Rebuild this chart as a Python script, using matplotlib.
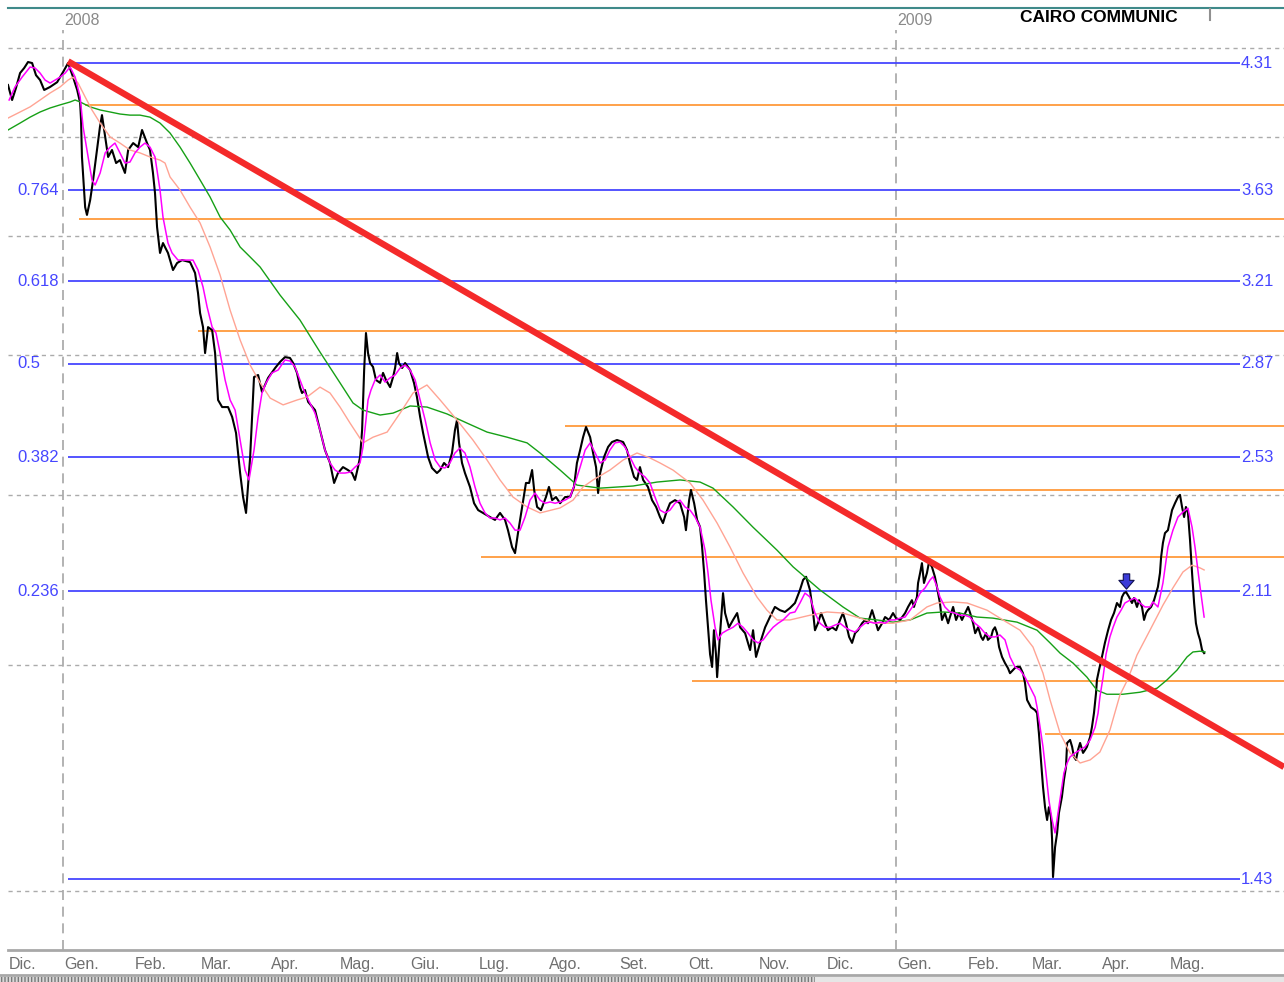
import pandas as pd
import matplotlib
matplotlib.use('Agg')
import matplotlib.pyplot as plt
import matplotlib.transforms as mtransforms
from matplotlib.lines import Line2D
from matplotlib.patches import Rectangle

plt.rcParams['font.family'] = ['Liberation Sans', 'DejaVu Sans']

# x values are days counted from 1 Jan 2008
base = pd.Timestamp('2008-01-01')

# closing price (black)
price_days = [
    -24.2, -22.4, -20.7, -18.9, -17.1, -15.4, -13.6, -11.9, -10.1, -8.3,
    -5.7, -2.6, 0.0, 2.2, 4.4, 6.2, 7.5, 7.9, 8.3, 9.7,
    10.5, 11.9, 13.2, 14.9, 16.2, 17.1, 18.5, 19.8, 21.5, 23.3,
    25.0, 27.2, 28.6, 30.8, 33.0, 34.7, 36.9, 38.2, 39.5, 40.4,
    41.3, 42.6, 43.9, 46.1, 48.3, 50.1, 52.3, 55.8, 58.0, 59.3,
    60.2, 61.5, 62.4, 63.7, 65.5, 66.8, 68.1, 69.9, 72.5, 74.3,
    76.0, 77.8, 79.1, 80.4, 82.2, 83.9, 85.7, 87.4, 90.1, 93.2,
    95.3, 97.5, 99.7, 101.1, 102.8, 104.1, 105.0, 106.3, 107.7, 110.7,
    112.9, 115.1, 117.3, 119.1, 120.8, 123.0, 125.2, 127.0, 128.3, 129.6,
    130.5, 131.4, 131.8, 132.3, 133.1, 134.0, 134.9, 136.2, 137.5, 139.3,
    140.6, 141.9, 143.7, 145.0, 145.9, 146.8, 147.6, 149.0, 150.3, 152.5,
    154.2, 155.5, 156.9, 158.2, 160.4, 162.1, 164.3, 165.7, 167.4, 169.2,
    170.9, 172.2, 173.1, 174.0, 175.3, 176.6, 178.8, 180.6, 182.4, 184.5,
    187.6, 189.8, 192.0, 194.2, 195.5, 197.3, 198.6, 199.9, 201.7, 203.4,
    204.8, 206.1, 207.0, 208.3, 210.0, 212.2, 213.5, 214.9, 216.6, 218.4,
    220.6, 222.8, 224.5, 225.8, 227.2, 228.5, 229.8, 231.6, 232.9, 234.2,
    235.1, 236.0, 237.7, 239.5, 241.2, 243.4, 246.1, 247.8, 249.1, 250.9,
    252.2, 253.5, 254.9, 257.0, 258.8, 260.6, 262.3, 263.6, 265.0, 266.7,
    268.9, 271.1, 272.9, 273.7, 275.1, 275.9, 277.3, 278.6, 279.9, 280.8,
    281.7, 282.5, 283.4, 284.3, 285.2, 286.0, 286.9, 287.4, 288.7, 290.0,
    290.9, 292.6, 294.4, 296.2, 297.5, 299.7, 301.9, 303.2, 304.5, 306.3,
    308.5, 310.6, 312.8, 315.0, 317.2, 319.4, 321.6, 323.8, 325.2, 326.5,
    328.2, 329.6, 330.4, 331.7, 333.1, 334.8, 336.1, 337.9, 339.7, 341.4,
    342.7, 344.0, 345.4, 346.7, 348.0, 349.3, 351.1, 352.4, 353.7, 355.5,
    356.8, 358.1, 359.9, 361.2, 363.0, 364.7, 366.0, 367.8, 370.0, 371.3,
    373.0, 373.9, 375.2, 375.7, 376.6, 377.4, 378.3, 379.6, 380.5, 381.8,
    383.1, 384.0, 385.3, 386.2, 387.5, 388.9, 389.7, 391.1, 392.4, 393.7,
    395.0, 396.4, 397.7, 398.6, 399.9, 400.8, 402.1, 403.4, 404.2, 405.6,
    406.4, 407.8, 408.6, 409.5, 410.4, 411.3, 412.6, 413.9, 415.2, 416.1,
    417.4, 418.7, 420.5, 421.8, 422.7, 423.6, 425.3, 427.1, 428.0, 428.8,
    429.7, 430.6, 431.5, 432.4, 433.2, 434.1, 434.6, 435.0, 435.9, 436.8,
    437.6, 438.9, 439.8, 440.7, 441.2, 442.5, 443.4, 444.2, 445.1, 446.0,
    446.9, 448.2, 449.1, 449.9, 451.3, 452.1, 453.0, 453.9, 454.3, 455.2,
    456.5, 457.8, 459.2, 460.5, 461.8, 463.1, 464.4, 465.3, 466.2, 467.1,
    468.4, 469.7, 470.6, 471.9, 472.8, 474.1, 475.0, 475.9, 476.7, 478.1,
    479.4, 480.3, 481.1, 482.0, 482.5, 483.3, 484.2, 485.5, 486.4, 487.3,
    488.6, 489.9, 490.8, 491.7, 492.6, 493.4, 494.3, 495.2, 496.1, 497.0,
    497.8, 498.7, 499.6, 500.5, 501.4,
]
price_vals = [
    4.184, 4.100, 4.167, 4.252, 4.281, 4.316, 4.310, 4.240, 4.212, 4.156,
    4.173, 4.200, 4.258, 4.310, 4.229, 4.156, 4.084, 3.990, 3.796, 3.547,
    3.510, 3.581, 3.680, 3.832, 3.953, 4.017, 3.900, 3.796, 3.832, 3.765,
    3.780, 3.715, 3.832, 3.868, 3.847, 3.937, 3.868, 3.832, 3.715, 3.615,
    3.453, 3.334, 3.379, 3.334, 3.258, 3.289, 3.302, 3.293, 3.245, 3.158,
    3.074, 3.016, 2.912, 3.016, 3.004, 2.912, 2.733, 2.707, 2.707, 2.671,
    2.614, 2.476, 2.397, 2.346, 2.530, 2.819, 2.827, 2.763, 2.816, 2.854,
    2.877, 2.896, 2.893, 2.873, 2.835, 2.781, 2.759, 2.770, 2.726, 2.696,
    2.624, 2.554, 2.510, 2.443, 2.476, 2.496, 2.486, 2.476, 2.453, 2.496,
    2.530, 2.624, 2.722, 2.846, 2.992, 2.912, 2.873, 2.858, 2.808, 2.797,
    2.835, 2.808, 2.781, 2.819, 2.854, 2.912, 2.873, 2.854, 2.873, 2.846,
    2.797, 2.744, 2.671, 2.614, 2.530, 2.493, 2.476, 2.486, 2.510, 2.496,
    2.544, 2.624, 2.660, 2.579, 2.510, 2.476, 2.430, 2.377, 2.355, 2.346,
    2.333, 2.324, 2.346, 2.324, 2.292, 2.240, 2.222, 2.283, 2.365, 2.443,
    2.443, 2.486, 2.420, 2.365, 2.355, 2.397, 2.430, 2.387, 2.397, 2.377,
    2.397, 2.397, 2.430, 2.510, 2.554, 2.599, 2.635, 2.599, 2.544, 2.496,
    2.410, 2.476, 2.530, 2.565, 2.582, 2.589, 2.582, 2.554, 2.510, 2.463,
    2.453, 2.496, 2.453, 2.430, 2.387, 2.365, 2.333, 2.314, 2.346, 2.377,
    2.387, 2.377, 2.333, 2.292, 2.387, 2.420, 2.377, 2.324, 2.302, 2.240,
    2.163, 2.085, 2.010, 1.938, 1.905, 2.002, 1.938, 1.879, 1.994, 2.105,
    2.049, 2.010, 2.030, 2.049, 2.010, 1.994, 1.949, 2.002, 1.931, 1.968,
    2.010, 2.038, 2.066, 2.057, 2.052, 2.063, 2.077, 2.114, 2.143, 2.152,
    2.114, 2.049, 2.002, 2.021, 2.049, 2.021, 2.002, 2.010, 2.002, 2.030,
    2.049, 2.021, 1.984, 1.968, 1.994, 2.002, 2.021, 2.030, 2.021, 2.057,
    2.030, 2.002, 2.021, 2.038, 2.030, 2.049, 2.035, 2.030, 2.049, 2.066,
    2.085, 2.066, 2.094, 2.134, 2.163, 2.192, 2.134, 2.163, 2.195, 2.181,
    2.152, 2.123, 2.077, 2.030, 2.049, 2.021, 2.038, 2.066, 2.030, 2.049,
    2.030, 2.049, 2.066, 2.049, 2.021, 1.994, 2.010, 1.984, 1.976, 1.994,
    1.976, 1.984, 2.002, 2.010, 1.994, 1.957, 1.931, 1.915, 1.902, 1.889,
    1.897, 1.905, 1.905, 1.889, 1.864, 1.822, 1.804, 1.797, 1.790, 1.742,
    1.680, 1.620, 1.576, 1.549, 1.576, 1.555, 1.508, 1.434, 1.493, 1.522,
    1.564, 1.598, 1.635, 1.664, 1.719, 1.726, 1.710, 1.687, 1.680, 1.703,
    1.719, 1.696, 1.703, 1.710, 1.733, 1.756, 1.790, 1.839, 1.872, 1.897,
    1.931, 1.968, 2.002, 2.030, 2.049, 2.077, 2.066, 2.094, 2.105, 2.108,
    2.094, 2.077, 2.091, 2.066, 2.085, 2.066, 2.030, 2.049, 2.057, 2.066,
    2.085, 2.105, 2.123, 2.163, 2.210, 2.253, 2.283, 2.292, 2.324, 2.355,
    2.377, 2.397, 2.404, 2.365, 2.333, 2.365, 2.346, 2.262, 2.163, 2.077,
    2.021, 1.994, 1.976, 1.949, 1.941,
]

# short moving average (magenta)
ma_fast_days = [
    -23.7, -21.1, -18.0, -14.5, -12.3, -10.1, -7.9, -5.7, -3.5, -1.3,
    0.9, 3.1, 5.3, 7.5, 8.8, 10.5, 12.7, 14.1, 16.3, 18.5,
    20.7, 22.8, 25.0, 27.2, 29.4, 31.6, 33.8, 36.0, 38.2, 40.4,
    42.6, 43.9, 46.1, 47.9, 50.5, 53.6, 57.1, 59.3, 61.5, 63.3,
    65.5, 67.2, 69.0, 71.2, 73.4, 75.6, 77.8, 80.0, 81.7, 83.9,
    85.7, 87.4, 89.2, 91.8, 94.5, 97.5, 99.7, 101.9, 104.1, 106.3,
    108.5, 110.7, 112.9, 115.1, 117.3, 119.5, 121.7, 123.9, 126.1, 128.3,
    130.5, 131.8, 133.1, 134.0, 135.3, 137.1, 139.3, 141.5, 143.7, 145.9,
    148.1, 150.3, 152.5, 154.7, 156.9, 159.1, 161.3, 163.5, 165.7, 167.8,
    170.0, 172.2, 174.4, 176.6, 178.8, 181.0, 183.2, 185.4, 187.6, 189.8,
    192.0, 194.2, 196.4, 198.6, 200.8, 203.0, 205.2, 207.4, 209.6, 211.8,
    214.0, 216.2, 218.4, 220.6, 222.8, 225.0, 227.2, 229.4, 231.6, 233.8,
    236.0, 238.2, 240.3, 242.5, 244.7, 246.9, 249.1, 251.3, 253.5, 255.7,
    257.9, 260.1, 262.3, 264.5, 266.7, 268.9, 271.1, 273.3, 275.5, 277.7,
    279.9, 282.1, 283.4, 284.7, 286.5, 287.8, 289.6, 291.8, 294.4, 296.6,
    298.8, 301.0, 303.2, 305.4, 307.6, 309.8, 312.0, 314.2, 316.4, 319.4,
    321.6, 323.8, 326.0, 328.2, 330.4, 332.6, 334.8, 337.0, 339.2, 341.4,
    343.6, 345.8, 348.0, 350.2, 352.4, 354.6, 356.8, 359.0, 361.2, 363.4,
    365.6, 367.8, 370.0, 372.2, 374.4, 376.6, 378.8, 381.0, 382.3, 384.0,
    385.3, 387.5, 389.7, 391.9, 394.1, 396.3, 398.5, 400.7, 402.9, 405.1,
    407.3, 409.5, 411.7, 413.9, 416.1, 418.3, 420.5, 422.7, 424.9, 427.1,
    428.0, 429.3, 430.6, 431.9, 433.2, 434.6, 435.9, 437.2, 438.5, 439.8,
    441.2, 442.5, 444.7, 446.9, 449.1, 451.3, 453.5, 454.8, 455.6, 457.0,
    458.3, 460.0, 461.4, 463.1, 464.9, 466.6, 468.8, 471.0, 473.2, 475.4,
    477.6, 478.9, 481.1, 483.3, 485.5, 487.7, 489.9, 492.1, 494.3, 496.1,
    497.4, 499.2, 501.4,
]
ma_fast_vals = [
    4.100, 4.173, 4.229, 4.287, 4.281, 4.252, 4.212, 4.195, 4.212, 4.229,
    4.252, 4.287, 4.229, 4.117, 3.953, 3.832, 3.680, 3.655, 3.715, 3.817,
    3.847, 3.868, 3.817, 3.765, 3.770, 3.817, 3.847, 3.868, 3.847, 3.796,
    3.630, 3.500, 3.379, 3.334, 3.302, 3.302, 3.302, 3.258, 3.184, 3.099,
    3.016, 2.992, 2.912, 2.808, 2.733, 2.696, 2.589, 2.486, 2.453, 2.554,
    2.671, 2.759, 2.797, 2.835, 2.846, 2.885, 2.881, 2.858, 2.808, 2.759,
    2.722, 2.685, 2.624, 2.554, 2.510, 2.486, 2.476, 2.476, 2.479, 2.496,
    2.510, 2.565, 2.660, 2.733, 2.770, 2.808, 2.827, 2.800, 2.816, 2.827,
    2.854, 2.865, 2.846, 2.808, 2.733, 2.660, 2.579, 2.520, 2.496, 2.493,
    2.510, 2.544, 2.561, 2.544, 2.496, 2.430, 2.377, 2.346, 2.330, 2.330,
    2.324, 2.330, 2.314, 2.292, 2.292, 2.333, 2.387, 2.410, 2.387, 2.377,
    2.381, 2.377, 2.381, 2.387, 2.397, 2.443, 2.496, 2.554, 2.579, 2.544,
    2.510, 2.520, 2.554, 2.579, 2.582, 2.565, 2.530, 2.496, 2.476, 2.463,
    2.443, 2.397, 2.355, 2.346, 2.355, 2.377, 2.387, 2.365, 2.355, 2.333,
    2.302, 2.231, 2.163, 2.085, 2.010, 1.976, 1.994, 2.002, 2.010, 2.021,
    2.010, 1.994, 1.976, 1.968, 1.976, 1.994, 2.010, 2.021, 2.030, 2.049,
    2.052, 2.077, 2.105, 2.094, 2.049, 2.021, 2.010, 2.010, 2.016, 2.021,
    2.010, 2.002, 1.997, 2.010, 2.021, 2.024, 2.021, 2.024, 2.021, 2.030,
    2.030, 2.035, 2.038, 2.057, 2.077, 2.105, 2.120, 2.143, 2.152, 2.123,
    2.094, 2.066, 2.052, 2.049, 2.043, 2.043, 2.038, 2.021, 2.010, 1.994,
    1.984, 1.984, 1.989, 1.976, 1.931, 1.905, 1.897, 1.879, 1.854, 1.829,
    1.804, 1.756, 1.710, 1.651, 1.591, 1.549, 1.522, 1.564, 1.607, 1.651,
    1.673, 1.687, 1.696, 1.703, 1.710, 1.726, 1.756, 1.790, 1.829, 1.879,
    1.938, 1.984, 2.010, 2.038, 2.057, 2.077, 2.085, 2.091, 2.077, 2.066,
    2.066, 2.080, 2.066, 2.134, 2.240, 2.292, 2.333, 2.349, 2.361, 2.301,
    2.240, 2.143, 2.038,
]

# medium moving average (salmon)
ma_mid_days = [
    -24.2, -18.9, -14.5, -10.1, -5.7, -1.3, 2.2, 4.4, 6.6, 9.7,
    12.7, 16.3, 20.7, 25.0, 29.4, 33.8, 38.2, 42.6, 44.8, 47.0,
    51.4, 55.8, 60.2, 64.6, 69.0, 73.4, 77.8, 82.2, 86.6, 91.0,
    96.7, 102.8, 107.2, 112.9, 117.3, 121.7, 126.1, 131.8, 136.2, 142.4,
    148.1, 153.8, 159.9, 165.7, 173.1, 180.1, 186.3, 192.0, 197.7, 203.9,
    209.6, 218.4, 224.1, 228.5, 232.9, 240.3, 246.1, 252.2, 257.9, 262.3,
    268.0, 275.5, 281.2, 287.4, 293.1, 298.8, 304.9, 309.3, 313.7, 319.4,
    328.2, 335.7, 342.7, 350.2, 356.8, 364.7, 372.2, 379.6, 384.0, 391.1,
    397.3, 406.0, 413.0, 420.5, 426.2, 430.6, 433.7, 438.1, 442.5, 446.9,
    451.3, 455.6, 460.0, 464.4, 467.9, 471.9, 477.6, 483.3, 487.7, 492.1,
    496.1, 499.6, 501.4,
]
ma_mid_vals = [
    4.001, 4.034, 4.062, 4.100, 4.139, 4.173, 4.212, 4.229, 4.195, 4.117,
    4.045, 3.974, 3.900, 3.868, 3.832, 3.817, 3.796, 3.780, 3.765, 3.695,
    3.630, 3.547, 3.472, 3.361, 3.236, 3.086, 2.964, 2.865, 2.797, 2.740,
    2.715, 2.733, 2.744, 2.781, 2.759, 2.707, 2.649, 2.579, 2.599, 2.617,
    2.685, 2.759, 2.789, 2.733, 2.660, 2.589, 2.520, 2.453, 2.397, 2.365,
    2.346, 2.362, 2.387, 2.430, 2.453, 2.486, 2.520, 2.544, 2.527, 2.510,
    2.486, 2.443, 2.387, 2.314, 2.240, 2.163, 2.094, 2.057, 2.030, 2.030,
    2.043, 2.052, 2.049, 2.035, 2.021, 2.021, 2.030, 2.066, 2.077, 2.080,
    2.077, 2.057, 2.030, 2.002, 1.957, 1.889, 1.822, 1.742, 1.696, 1.673,
    1.680, 1.698, 1.749, 1.834, 1.874, 1.936, 2.002, 2.071, 2.120, 2.166,
    2.186, 2.178, 2.172,
]

# long moving average (green)
ma_slow_days = [
    -24.2, -18.9, -14.5, -10.1, -5.7, -1.3, 3.1, 5.3, 7.5, 11.9,
    16.3, 20.7, 25.0, 29.4, 33.8, 38.2, 42.6, 47.0, 51.4, 55.8,
    60.2, 64.6, 69.0, 73.4, 77.8, 82.2, 86.6, 95.3, 104.1, 112.9,
    121.7, 127.4, 131.8, 139.3, 145.0, 152.5, 159.9, 168.7, 177.5, 186.3,
    195.1, 203.9, 209.6, 218.4, 225.8, 236.0, 250.5, 261.0, 271.1, 279.9,
    285.6, 294.4, 303.2, 313.7, 320.8, 332.6, 342.7, 350.2, 357.7, 364.7,
    372.2, 379.6, 386.7, 394.1, 401.6, 408.6, 419.2, 428.0, 433.7, 438.1,
    443.8, 449.9, 454.3, 458.7, 465.7, 473.2, 480.7, 485.1, 489.5, 493.9,
    496.5, 499.6, 501.8,
]
ma_slow_vals = [
    3.937, 3.974, 4.006, 4.034, 4.056, 4.073, 4.089, 4.100, 4.089, 4.062,
    4.045, 4.034, 4.023, 4.017, 4.017, 4.006, 3.974, 3.921, 3.847, 3.765,
    3.680, 3.596, 3.500, 3.439, 3.361, 3.316, 3.271, 3.150, 3.045, 2.916,
    2.797, 2.722, 2.696, 2.678, 2.685, 2.711, 2.707, 2.682, 2.649, 2.617,
    2.599, 2.579, 2.544, 2.486, 2.436, 2.426, 2.433, 2.446, 2.453, 2.446,
    2.426, 2.365, 2.301, 2.231, 2.181, 2.114, 2.066, 2.035, 2.030, 2.024,
    2.030, 2.049, 2.052, 2.049, 2.038, 2.035, 2.024, 2.002, 1.968, 1.941,
    1.915, 1.879, 1.846, 1.836, 1.836, 1.841, 1.851, 1.872, 1.897, 1.931,
    1.944, 1.946, 1.944,
]

# Fibonacci retracement levels (blue)
fib_prices = [4.31, 3.63, 3.21, 2.87, 2.53, 2.11, 1.43]
fib_ratio_labels = ['', '0.764', '0.618', '0.5', '0.382', '0.236', '']
fib_price_labels = ['4.31', '3.63', '3.21', '2.87', '2.53', '2.11', '1.43']

# support / resistance lines (orange): level and first day
sr_levels = [4.07, 3.49, 3.00, 2.64, 2.42, 2.21, 1.87, 1.74]
sr_start_days = [9.7, 7.0, 59.3, 220.6, 195.5, 183.7, 276.4, 431.5]

# falling trendline (red)
trend_days = [2.2, 536.5]
trend_prices = [4.32, 1.664]

# price grid (dashed)
grid_prices = [1.407, 1.91, 2.403, 2.904, 3.41, 3.90, 4.40]

# signal arrow
arrow_day = 467.1
arrow_price = 2.140

month_labels = ['Dic.', 'Gen.', 'Feb.', 'Mar.', 'Apr.', 'Mag.', 'Giu.', 'Lug.',
                'Ago.', 'Set.', 'Ott.', 'Nov.', 'Dic.', 'Gen.', 'Feb.', 'Mar.',
                'Apr.', 'Mag.']
month_starts = pd.date_range('2007-12-01', '2009-05-01', freq='MS')
year_labels = ['2008', '2009']
year_starts = [pd.Timestamp('2008-01-01'), pd.Timestamp('2009-01-01')]

W, H = 1284, 982
x0, x1 = -24.2, 536.5
fig = plt.figure(figsize=(W / 100, H / 100), dpi=100)
ax = fig.add_axes([8 / W, 32 / H, 1 - 8 / W, 942 / H])
ax.set_yscale('log')
ax.set_xlim(x0, x1)
ax.set_ylim(1.2993, 4.643)
ax.set_xticks([])
ax.set_yticks([])
ax.set_yticks([], minor=True)
ax.tick_params(which='both', left=False, bottom=False, labelleft=False, labelbottom=False)
ax.spines['left'].set_visible(False)
ax.spines['right'].set_visible(False)
ax.spines['top'].set_color('#3f8a8a')
ax.spines['top'].set_linewidth(1.5)
ax.spines['bottom'].set_color('#a8a8a8')
ax.spines['bottom'].set_linewidth(2)

for g in grid_prices:
    ax.axhline(g, color='#ababab', lw=1, ls=(0, (3, 3)), zorder=1)

for ys in year_starts:
    d = (ys - base).days
    ax.axvline(d, ymax=0.977, color='#a6a6a6', lw=1.2, ls=(0, (6, 4)), zorder=1)

ax.hlines(fib_prices, 2.2, 517.1, color='#4646ff', lw=1.3, zorder=2)
for lvl, start in zip(sr_levels, sr_start_days):
    ax.hlines(lvl, start, x1, color='#ff9a3c', lw=1.3, zorder=2)

ax.plot(price_days, price_vals, color='black', lw=1.5, zorder=3)
ax.plot(ma_slow_days, ma_slow_vals, color='#16a016', lw=1.0, zorder=3.1)
ax.plot(ma_mid_days, ma_mid_vals, color='#ffa494', lw=1.0, zorder=3.1)
ax.plot(ma_fast_days, ma_fast_vals, color='#ff00ff', lw=1.1, zorder=3.2)
ax.plot(trend_days, trend_prices, color='#f42a2a', lw=4.6,
        solid_capstyle='butt', zorder=5)

arrow = [(-0.42, 1), (0.42, 1), (0.42, 0.15), (1, 0.15), (0, -1),
         (-1, 0.15), (-0.42, 0.15), (-0.42, 1)]
ax.plot([arrow_day], [arrow_price], marker=arrow, ms=11,
        mfc='#3c3cd8', mec='#101050', mew=0.8, zorder=6)

# level labels
blue = '#4646ff'
for p, lab in zip(fib_prices, fib_ratio_labels):
    if lab:
        ax.text(-20.2, p, lab, color=blue, fontsize=12, ha='left', va='center')
for p, lab in zip(fib_prices, fib_price_labels):
    ax.text(517.6, p, lab, color=blue, fontsize=12, ha='left', va='center')

# month and year labels
tr = mtransforms.blended_transform_factory(ax.transData, ax.transAxes)
for ms, lab in zip(month_starts, month_labels):
    d = max((ms - base).days, x0) + 0.5
    ax.text(d, -0.0155, lab, transform=tr, color='#6f6f6f', fontsize=11.5,
            ha='left', va='center', clip_on=False)
for ys, lab in zip(year_starts, year_labels):
    ax.text((ys - base).days + 0.5, 0.987, lab, transform=tr, color='#8a8a8a',
            fontsize=11.5, ha='left', va='center')

fig.text(1020 / W, 1 - 18 / H, 'CAIRO COMMUNIC', fontsize=12.5,
         fontweight='bold', color='black', ha='left', va='center')
fig.add_artist(Line2D([1210 / W, 1210 / W], [1 - 9 / H, 1 - 20 / H],
                      color='#909090', lw=1.5))

# bottom frame of the date strip
fig.add_artist(Line2D([0, 1], [1 - 975 / H, 1 - 975 / H], color='#a8a8a8', lw=2))
fig.patches.append(Rectangle((0, 0), 815 / W, 5 / H, transform=fig.transFigure,
                             facecolor='#d8d8d8', edgecolor='#7a7a7a',
                             hatch='|||||', lw=0))
fig.patches.append(Rectangle((815 / W, 0), 1 - 815 / W, 5 / H,
                             transform=fig.transFigure,
                             facecolor='#e6e6e6', lw=0))

fig.savefig('out.png', dpi=100)
